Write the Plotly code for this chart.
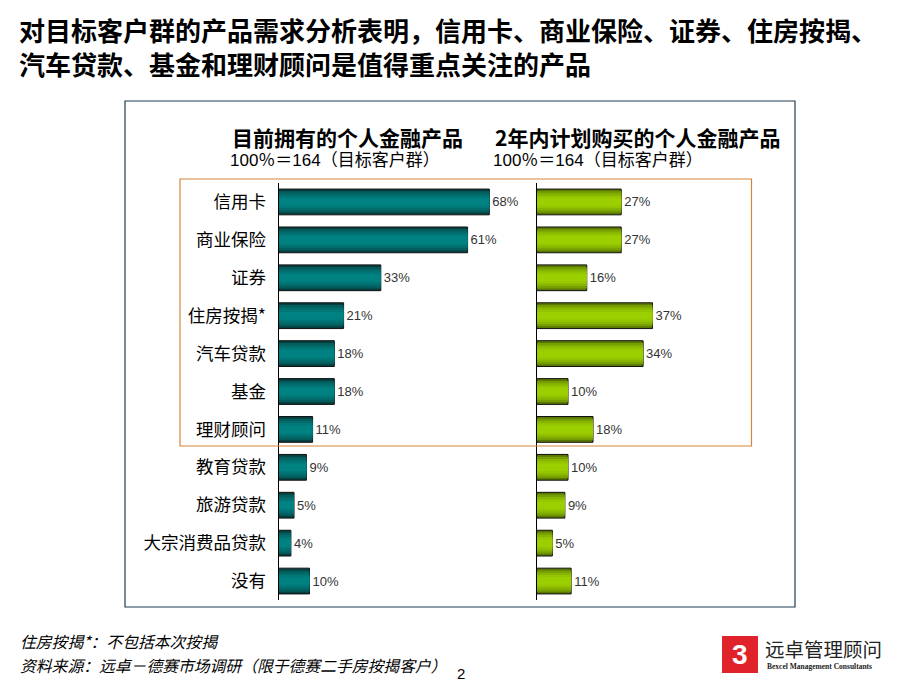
import plotly.graph_objects as go

# the page puts the plot 8px in from the top-left corner, so the figure is
# sized to fit and every position below is given in window pixels
OFF = 8
W, H = 920 - 2 * OFF, 690 - 2 * OFF

products = ['信用卡', '商业保险', '证券', '住房按揭*', '汽车贷款', '基金', '理财顾问',
            '教育贷款', '旅游贷款', '大宗消费品贷款', '没有']
owned = [68, 61, 33, 21, 18, 18, 11, 9, 5, 4, 10]
planned = [27, 27, 16, 37, 34, 10, 18, 10, 9, 5, 11]

title_lines = ['对目标客户群的产品需求分析表明，信用卡、商业保险、证券、住房按揭、',
               '汽车贷款、基金和理财顾问是值得重点关注的产品']
left_head = '目前拥有的个人金融产品'
right_head = '2年内计划购买的个人金融产品'
base_text = '100％＝164（目标客户群）'
notes = ['住房按揭*：不包括本次按揭', '资料来源：远卓－德赛市场调研（限于德赛二手房按揭客户）']

CJK = 'Noto Sans CJK SC'

# layered bars fake the cylinder shading of the original
widths = [0.68, 0.56, 0.44, 0.32, 0.2]
teal = ['#053f3f', '#035d5d', '#026c6c', '#017878', '#008282']
green = ['#5a7800', '#769e00', '#88b600', '#94c500', '#9ccf00']


def px(x):
    return (x - OFF) / W


def py(y):
    return 1 - (y - OFF) / H


fig = go.Figure()
for xa, ya, vals, cols in [('x', 'y', owned, teal), ('x2', 'y2', planned, green)]:
    for i, (w, c) in enumerate(zip(widths, cols)):
        fig.add_trace(go.Bar(
            y=products, x=vals, orientation='h', width=w,
            xaxis=xa, yaxis=ya,
            marker=dict(color=c, line=dict(color='#111111', width=1 if i == 0 else 0)),
            text=[f'{v}%' for v in vals] if i == 0 else None,
            textposition='outside' if i == 0 else 'none',
            textfont=dict(family='Arial', size=13, color='#333333'),
            cliponaxis=False, hoverinfo='skip', showlegend=False,
        ))

ydom = [py(600), py(183)]
fig.update_layout(
    width=W, height=H, barmode='overlay',
    margin=dict(l=0, r=0, t=0, b=0),
    paper_bgcolor='white', plot_bgcolor='rgba(0,0,0,0)',
    xaxis=dict(domain=[px(278.5), px(278.5 + 80 * 3.1)], range=[0, 80], visible=False),
    xaxis2=dict(domain=[px(536.7), px(536.7 + 75 * 3.13)], range=[0, 75], visible=False),
    yaxis=dict(domain=ydom, anchor='x', categoryorder='array', categoryarray=products,
               autorange='reversed', showline=True, linecolor='black', linewidth=1,
               showgrid=False, ticks='', ticklabelstandoff=8,
               tickfont=dict(family=CJK, size=17.5, color='black')),
    yaxis2=dict(domain=ydom, anchor='x2', categoryorder='array', categoryarray=products,
                autorange='reversed', showline=True, linecolor='black', linewidth=1,
                showgrid=False, showticklabels=False, ticks=''),
)

# frames
fig.add_shape(type='rect', xref='paper', yref='paper', x0=px(125), x1=px(795), y0=py(607), y1=py(101),
              line=dict(color='#1f3c50', width=1.2))
fig.add_shape(type='rect', xref='paper', yref='paper', x0=px(180), x1=px(751.5), y0=py(446), y1=py(179),
              line=dict(color='#d8843a', width=1.2))

ann = []
ann.append(dict(text='<b>' + '<br>'.join(title_lines) + '</b>', x=px(17), y=py(47), xanchor='left',
                yanchor='middle', align='left', font=dict(family=CJK, size=26, color='black')))
for x0, head in [(230, left_head), (493, right_head)]:
    ann.append(dict(text=f'<b>{head}</b>', x=px(x0), y=py(137), xanchor='left', yanchor='middle',
                    font=dict(family=CJK, size=21, color='black')))
    ann.append(dict(text=base_text, x=px(x0 - 2), y=py(160), xanchor='left', yanchor='middle',
                    font=dict(family='Arial, ' + CJK, size=17, color='black')))
for i, t in enumerate(notes):
    ann.append(dict(text=f'<i>{t}</i>', x=px(18), y=py(641 + 24 * i), xanchor='left', yanchor='middle',
                    font=dict(family=CJK, size=15.8, color='black')))
ann.append(dict(text='2', x=px(461), y=py(673), xanchor='center', yanchor='middle',
                font=dict(family='Arial', size=15, color='black')))

# logo
fig.add_shape(type='rect', xref='paper', yref='paper', x0=px(722), x1=px(758), y0=py(673), y1=py(636),
              line=dict(width=0), fillcolor='#e0232a')
ann.append(dict(text='<b>3</b>', x=px(740), y=py(654), xanchor='center', yanchor='middle',
                font=dict(family='Arial Black, Arial', size=28, color='white')))
ann.append(dict(text='远卓管理顾问', x=px(763), y=py(648), xanchor='left', yanchor='middle',
                font=dict(family=CJK, size=19.5, color='#222222')))
ann.append(dict(text='<b>Bexcel Management Consultants</b>', x=px(765), y=py(666), xanchor='left',
                yanchor='middle', font=dict(family='Liberation Serif', size=7.5, color='#222222')))

for a in ann:
    a.update(xref='paper', yref='paper', showarrow=False)
fig.update_layout(annotations=ann)

fig.write_html('out.html')
